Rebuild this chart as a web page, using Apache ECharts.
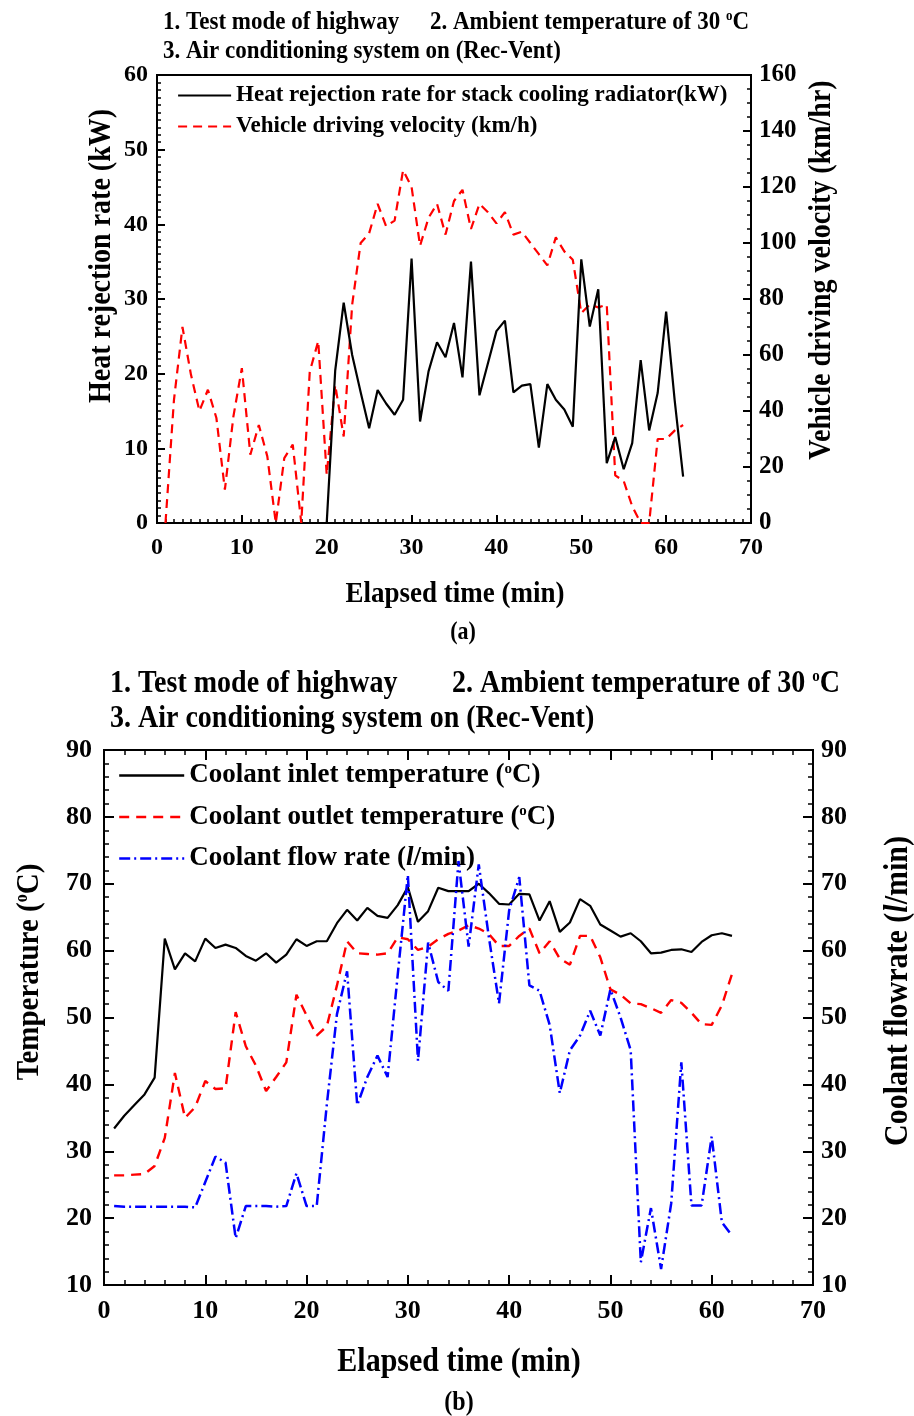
<!DOCTYPE html>
<html>
<head>
<meta charset="utf-8">
<title>Highway test - stack cooling</title>
<script src="https://cdn.jsdelivr.net/npm/echarts@6/dist/echarts.min.js"></script>
<style>
  html, body { margin: 0; padding: 0; background: #fff; }
  #echarts { width: 914px; height: 1416px; }
</style>
</head>
<body>
<div id="echarts"></div>
<script>
// elapsed time (min)
var minutes = [1, 2, 3, 4, 5, 6, 7, 8, 9, 10, 11, 12, 13, 14, 15, 16, 17, 18, 19, 20,
  21, 22, 23, 24, 25, 26, 27, 28, 29, 30, 31, 32, 33, 34, 35, 36, 37, 38, 39, 40,
  41, 42, 43, 44, 45, 46, 47, 48, 49, 50, 51, 52, 53, 54, 55, 56, 57, 58, 59, 60, 61, 62];
var heatMinutes = minutes.slice(19); // heat rejection starts at 20 min

// (a) vehicle velocity km/h, heat rejection rate kW
var velocity = [0, 44, 70, 53, 40, 47.6, 37.5, 11.9, 38, 55.3,
  24.4, 35, 23.8, 0, 23.2, 28, 0, 54, 65, 17.2,
  49.3, 30.9, 78, 100, 103.5, 114, 106, 108, 126, 120,
  99, 109, 114, 103, 115, 119, 105, 114, 111, 107,
  111, 103, 104, 100, 96, 92, 102, 97, 94, 75,
  78, 77, 78, 17, 15, 6, 0, 0, 30, 30, 33, 35];
var heatRate = [0, 20.4, 29.5, 22.5, 17.5, 12.7, 17.8, 16, 14.5, 16.5, 35.4,
  13.6, 20.3, 24.2, 22.2, 26.8, 19.5, 35, 17.1, 21.4, 25.7,
  27.1, 17.5, 18.4, 18.6, 10.1, 18.6, 16.5, 15.2, 12.9, 35.3,
  26.3, 31.3, 8.0, 11.5, 7.2, 10.7, 21.8, 12.4, 17.4, 28.3, 16.5, 6.2];

// (b) coolant temperatures (oC) and flow rate (l/min)
var inletTemp = [33.4, 35.3, 36.9, 38.5, 41.0, 61.8, 57.2, 59.6, 58.4, 61.8,
  60.4, 60.9, 60.4, 59.2, 58.5, 59.6, 58.2, 59.4, 61.7, 60.7,
  61.4, 61.4, 64.1, 66.1, 64.5, 66.4, 65.2, 64.9, 66.8, 69.5,
  64.3, 65.9, 69.4, 68.9, 68.9, 68.9, 70.0, 68.6, 67.0, 66.9,
  68.5, 68.4, 64.5, 67.4, 62.8, 64.2, 67.7, 66.7, 63.9, 63.0,
  62.1, 62.6, 61.4, 59.6, 59.7, 60.1, 60.2, 59.8, 61.3, 62.3, 62.6, 62.2];
var outletTemp = [26.4, 26.4, 26.5, 26.6, 27.8, 32, 41.7, 35.0, 36.6, 40.5,
  39.3, 39.4, 50.8, 45.7, 42.8, 39.0, 41.1, 43.3, 53.4, 50.3,
  47.3, 48.7, 54.8, 61.4, 59.6, 59.5, 59.4, 59.6, 62.0, 61.7,
  60.1, 60.6, 61.7, 62.5, 63.0, 63.8, 63.3, 62.5, 60.7, 60.7,
  62.2, 63.3, 59.6, 61.4, 58.8, 57.9, 62.2, 62.2, 59.0, 54.2,
  53.4, 52.1, 52.0, 51.4, 50.7, 52.6, 52.2, 50.7, 49.0, 48.9, 51.8, 56.5];
var flowRate = [21.8, 21.7, 21.7, 21.7, 21.7, 21.7, 21.7, 21.7, 21.6, 25.4,
  29.2, 28.3, 17.0, 21.8, 21.8, 21.8, 21.7, 21.8, 26.7, 21.8,
  21.8, 37, 50.5, 56.9, 36.9, 41.1, 44.3, 41.1, 56.4, 71.3,
  43.5, 61.2, 55.3, 54.0, 73.4, 60.6, 72.9, 62, 52.1, 66.0,
  71.0, 54.8, 54.0, 48.9, 38.7, 45.1, 47.3, 51.0, 47.3, 54.2,
  50.0, 45.1, 13.4, 21.5, 12.4, 22.2, 43.3, 21.9, 21.9, 32.2, 19.4, 17.4];

var FONT = 'Liberation Serif';

function pairs(xs, ys) {
  return ys.map(function (v, i) { return [xs[i], v]; });
}

// superscript / italic pieces for rich text
function richStyle(size) {
  return {
    sup: { fontFamily: FONT, fontWeight: 'bold', fontSize: Math.round(size * 0.55), verticalAlign: 'top', color: '#000' },
    it: { fontFamily: FONT, fontWeight: 'bold', fontStyle: 'italic', fontSize: size, color: '#000' }
  };
}

// free text (titles, axis names); glyphs a bit taller like the original figure
function txt(x, y, text, size, align, rotate) {
  return {
    type: 'text',
    x: x,
    y: y,
    rotation: rotate ? Math.PI / 2 : 0,
    scaleY: 1.12,
    silent: true,
    style: {
      text: text,
      fontFamily: FONT,
      fontWeight: 'bold',
      fontSize: size,
      fill: '#000',
      textAlign: align || 'left',
      align: align || 'left',
      textVerticalAlign: 'middle',
      verticalAlign: 'middle',
      rich: richStyle(size)
    }
  };
}

function valueAxis(grid, min, max, step, minor, size, opt) {
  var ax = {
    gridIndex: grid,
    type: 'value',
    min: min,
    max: max,
    interval: step,
    axisLine: { show: true, onZero: false, lineStyle: { color: '#000', width: 2 } },
    axisTick: { show: true, inside: true, length: opt.tick, lineStyle: { color: '#000', width: 2 } },
    minorTick: { show: true, splitNumber: minor, length: opt.tick / 2, lineStyle: { color: '#000', width: 1.5 } },
    axisLabel: { show: true, margin: opt.margin, fontFamily: FONT, fontWeight: 'bold', fontSize: size, color: '#000' },
    splitLine: { show: false },
    minorSplitLine: { show: false }
  };
  if (opt.position) ax.position = opt.position;
  if (opt.noLabel) ax.axisLabel.show = false;
  if (opt.noTick) { ax.axisTick.show = false; ax.minorTick.show = false; }
  return ax;
}

var chart = echarts.init(document.getElementById('echarts'));

var option = {
  animation: false,
  backgroundColor: '#fff',
  grid: [
    { left: 157, top: 75, width: 594, height: 448, show: true, borderColor: '#000', borderWidth: 2 },
    { left: 104, top: 750, width: 709, height: 535, show: true, borderColor: '#000', borderWidth: 2 }
  ],
  xAxis: [
    valueAxis(0, 0, 70, 10, 10, 24, { tick: 8, margin: 13 }),
    valueAxis(0, 0, 70, 10, 10, 24, { tick: 8, margin: 13, position: 'top', noLabel: true, noTick: true }),
    valueAxis(1, 0, 70, 10, 5, 26, { tick: 10, margin: 13 }),
    valueAxis(1, 0, 70, 10, 5, 26, { tick: 10, margin: 13, position: 'top', noLabel: true })
  ],
  yAxis: [
    valueAxis(0, 0, 60, 10, 10, 24, { tick: 8, margin: 9 }),
    valueAxis(0, 0, 160, 20, 4, 25, { tick: 8, margin: 8, position: 'right' }),
    valueAxis(1, 10, 90, 10, 5, 26, { tick: 10, margin: 12 }),
    valueAxis(1, 10, 90, 10, 5, 26, { tick: 10, margin: 8, position: 'right' })
  ],
  legend: [
    {
      data: ['Heat rejection rate for stack cooling radiator(kW)', 'Vehicle driving velocity (km/h)'],
      orient: 'vertical',
      left: 172,
      top: 79,
      itemWidth: 53,
      itemHeight: 22,
      itemGap: 8,
      selectedMode: false,
      itemStyle: { opacity: 0 },
      lineStyle: { width: 2.2 },
      textStyle: { fontFamily: FONT, fontWeight: 'bold', fontSize: 23, color: '#000' }
    },
    {
      data: ['inlet', 'outlet', 'flow'],
      orient: 'vertical',
      left: 113,
      top: 757,
      itemWidth: 65,
      itemHeight: 26,
      itemGap: 14.5,
      selectedMode: false,
      itemStyle: { opacity: 0 },
      lineStyle: { width: 2.4 },
      formatter: function (name) {
        if (name === 'inlet') return 'Coolant inlet temperature ({sup|o}C)';
        if (name === 'outlet') return 'Coolant outlet temperature ({sup|o}C)';
        return 'Coolant flow rate ({it|l}/min)';
      },
      textStyle: { fontFamily: FONT, fontWeight: 'bold', fontSize: 27, color: '#000', rich: richStyle(27) }
    }
  ],
  series: [
    {
      name: 'Vehicle driving velocity (km/h)',
      type: 'line',
      xAxisIndex: 0,
      yAxisIndex: 1,
      symbol: 'none',
      data: pairs(minutes, velocity),
      itemStyle: { color: '#ff0000' },
      lineStyle: { color: '#ff0000', width: 2.2, type: [9, 6] }
    },
    {
      name: 'Heat rejection rate for stack cooling radiator(kW)',
      type: 'line',
      xAxisIndex: 0,
      yAxisIndex: 0,
      symbol: 'none',
      data: pairs(heatMinutes, heatRate),
      itemStyle: { color: '#000' },
      lineStyle: { color: '#000', width: 2.2 }
    },
    {
      name: 'inlet',
      type: 'line',
      xAxisIndex: 2,
      yAxisIndex: 2,
      symbol: 'none',
      data: pairs(minutes, inletTemp),
      itemStyle: { color: '#000' },
      lineStyle: { color: '#000', width: 2.2 }
    },
    {
      name: 'outlet',
      type: 'line',
      xAxisIndex: 2,
      yAxisIndex: 2,
      symbol: 'none',
      data: pairs(minutes, outletTemp),
      itemStyle: { color: '#ff0000' },
      lineStyle: { color: '#ff0000', width: 2.4, type: [10, 7] }
    },
    {
      name: 'flow',
      type: 'line',
      xAxisIndex: 2,
      yAxisIndex: 3,
      symbol: 'none',
      data: pairs(minutes, flowRate),
      itemStyle: { color: '#0000ff' },
      lineStyle: { color: '#0000ff', width: 2.5, type: [11, 4, 2, 4] }
    }
  ],
  graphic: [
    // (a) titles
    txt(163, 22, '1. Test mode of highway', 23),
    txt(430, 22, '2. Ambient temperature of 30 {sup|o}C', 23),
    txt(163, 51, '3. Air conditioning system on (Rec-Vent)', 23),
    txt(102, 256, 'Heat rejection rate (kW)', 28, 'center', true),
    txt(822, 270, 'Vehicle driving velocity (km/hr)', 28, 'center', true),
    txt(455, 594, 'Elapsed time (min)', 27, 'center'),
    txt(463, 633, '(a)', 22, 'center'),
    // (b) titles
    txt(110, 684, '1. Test mode of highway', 28),
    txt(452, 684, '2. Ambient temperature of 30 {sup|o}C', 28),
    txt(110, 719, '3. Air conditioning system on (Rec-Vent)', 28),
    txt(30, 972, 'Temperature ({sup|o}C)', 29, 'center', true),
    txt(898, 991, 'Coolant flowrate ({it|l}/min)', 30, 'center', true),
    txt(459, 1362, 'Elapsed time (min)', 30, 'center'),
    txt(459, 1403, '(b)', 24, 'center')
  ]
};

chart.setOption(option);
</script>
</body>
</html>
